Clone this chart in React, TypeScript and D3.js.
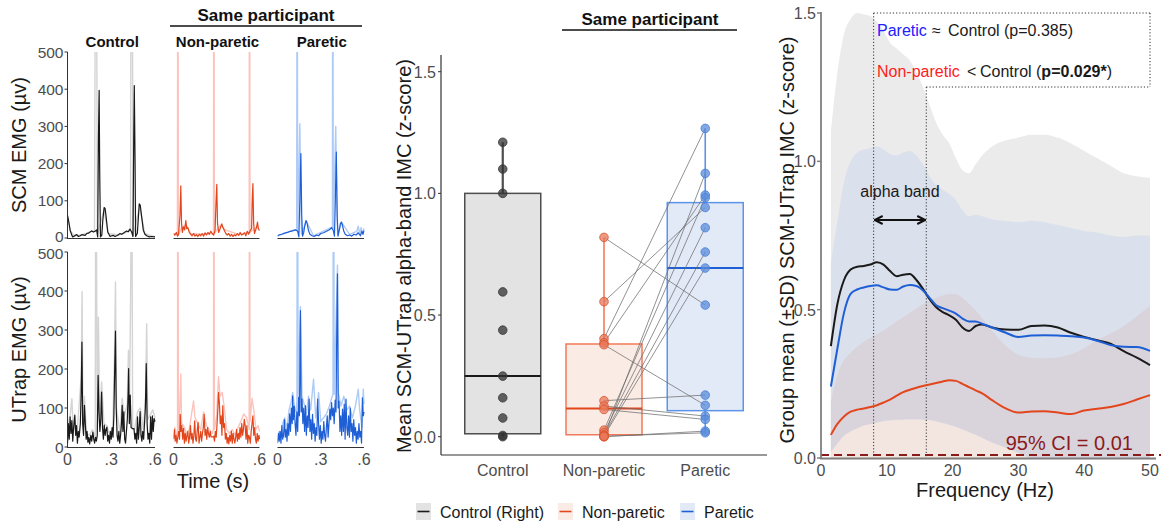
import React from "react";
import * as d3 from "d3";

type Pt = [number, number];

// ================= Panel A: EMG traces (time in s, amplitude in µV) =================
const emgRowLabels = ["SCM EMG (µv)", "UTrap EMG (µv)"];
const emgColTitles = ["Control", "Non-paretic", "Paretic"];
const emgYTicks = [0, 100, 200, 300, 400, 500];
const emgXTicks = [0, 0.3, 0.6];
const emgXTickLabels = ["0", ".3", ".6"];

const scmControlMain: Pt[] = [[0,61],[0.009,43],[0.018,21],[0.03,7],[0.036,3],[0.052,7],[0.064,9],[0.075,4],[0.087,6],[0.098,9],[0.121,7],[0.132,12],[0.144,13],[0.155,16],[0.166,19],[0.178,16],[0.189,18],[0.2,22],[0.207,3],[0.212,262],[0.217,397],[0.221,173],[0.226,3],[0.235,7],[0.242,47],[0.251,82],[0.258,79],[0.265,56],[0.276,16],[0.292,4],[0.303,6],[0.315,7],[0.326,4],[0.337,6],[0.349,9],[0.36,12],[0.372,10],[0.383,13],[0.394,16],[0.406,19],[0.417,17],[0.428,24],[0.44,16],[0.449,4],[0.454,262],[0.458,410],[0.463,218],[0.467,4],[0.479,13],[0.486,56],[0.492,92],[0.499,88],[0.506,65],[0.52,21],[0.531,10],[0.543,6],[0.561,3],[0.577,4],[0.6,3]];
const scmControlRaw: Pt[] = [[0,58],[0.02,18],[0.05,5],[0.1,9],[0.15,16],[0.185,20],[0.19,620],[0.2,620],[0.205,10],[0.25,75],[0.28,12],[0.35,8],[0.42,18],[0.432,22],[0.435,620],[0.445,620],[0.45,6],[0.495,85],[0.53,12],[0.6,3]];

const scmNonMain: Pt[] = [[0,12],[0.01,8],[0.02,15],[0.028,5],[0.035,10],[0.045,60],[0.051,140],[0.056,40],[0.062,15],[0.07,30],[0.078,22],[0.086,47],[0.092,25],[0.1,28],[0.11,15],[0.12,10],[0.13,6],[0.14,12],[0.15,5],[0.16,9],[0.17,4],[0.18,10],[0.19,6],[0.2,12],[0.21,5],[0.22,14],[0.23,8],[0.24,15],[0.25,10],[0.26,18],[0.27,12],[0.28,8],[0.29,20],[0.297,100],[0.302,144],[0.307,40],[0.315,15],[0.325,25],[0.337,38],[0.345,28],[0.355,20],[0.365,12],[0.375,8],[0.385,12],[0.395,5],[0.405,10],[0.415,4],[0.425,9],[0.435,6],[0.445,12],[0.455,7],[0.465,15],[0.475,8],[0.485,10],[0.495,14],[0.505,6],[0.515,18],[0.525,10],[0.535,20],[0.545,25],[0.549,100],[0.554,146],[0.559,40],[0.565,12],[0.572,20],[0.58,30],[0.586,43],[0.592,25],[0.6,20]];
const scmNonRaw: Pt[] = [[0,10],[0.027,8],[0.029,620],[0.032,620],[0.034,8],[0.06,30],[0.09,35],[0.12,12],[0.2,10],[0.279,12],[0.28,620],[0.283,620],[0.285,12],[0.33,35],[0.36,22],[0.45,10],[0.528,15],[0.529,620],[0.532,620],[0.534,15],[0.58,30],[0.6,22]];

const scmParMain: Pt[] = [[0,5],[0.01,8],[0.03,10],[0.05,13],[0.07,15],[0.09,18],[0.11,20],[0.125,22],[0.14,18],[0.148,3],[0.155,100],[0.162,227],[0.168,60],[0.174,5],[0.182,15],[0.19,35],[0.198,47],[0.205,40],[0.215,20],[0.225,10],[0.24,6],[0.255,4],[0.27,8],[0.285,6],[0.3,12],[0.32,14],[0.34,18],[0.36,22],[0.375,28],[0.387,20],[0.395,5],[0.401,100],[0.408,231],[0.414,60],[0.42,5],[0.428,20],[0.436,38],[0.443,43],[0.45,35],[0.46,18],[0.47,10],[0.485,6],[0.5,8],[0.515,5],[0.53,10],[0.545,8],[0.56,14],[0.575,6],[0.585,18],[0.593,10],[0.6,20]];
const scmParRaw: Pt[] = [[0,6],[0.05,13],[0.1,20],[0.133,22],[0.135,620],[0.138,620],[0.14,20],[0.15,200],[0.155,307],[0.16,120],[0.167,10],[0.2,45],[0.25,6],[0.37,28],[0.381,30],[0.382,620],[0.385,620],[0.387,25],[0.398,200],[0.404,300],[0.41,120],[0.417,10],[0.445,42],[0.5,10],[0.55,18],[0.56,32],[0.57,12],[0.58,28],[0.59,12],[0.6,26]];

const utControlMain: Pt[] = [[0,10],[0.006,60],[0.012,20],[0.018,77],[0.024,35],[0.03,68],[0.036,15],[0.042,50],[0.05,81],[0.056,30],[0.062,55],[0.068,10],[0.074,40],[0.08,25],[0.088,60],[0.094,141],[0.099,269],[0.104,60],[0.11,30],[0.116,107],[0.122,60],[0.128,20],[0.134,40],[0.14,12],[0.146,25],[0.152,8],[0.16,30],[0.166,15],[0.174,38],[0.18,20],[0.186,10],[0.192,25],[0.198,15],[0.204,30],[0.21,184],[0.216,90],[0.222,40],[0.228,70],[0.234,141],[0.24,50],[0.246,20],[0.252,56],[0.258,30],[0.264,45],[0.27,51],[0.276,15],[0.282,30],[0.288,10],[0.294,40],[0.3,20],[0.306,50],[0.312,25],[0.318,80],[0.323,188],[0.329,297],[0.334,100],[0.34,30],[0.346,15],[0.352,40],[0.358,10],[0.364,30],[0.37,60],[0.375,107],[0.38,40],[0.386,90],[0.392,20],[0.398,10],[0.404,40],[0.41,70],[0.416,140],[0.419,201],[0.424,60],[0.43,133],[0.436,50],[0.442,48],[0.45,47],[0.456,47],[0.462,20],[0.468,35],[0.474,10],[0.48,77],[0.486,20],[0.492,50],[0.498,91],[0.504,30],[0.51,15],[0.516,40],[0.522,20],[0.528,60],[0.534,100],[0.54,214],[0.546,60],[0.552,20],[0.558,35],[0.564,10],[0.57,77],[0.576,20],[0.582,80],[0.588,40],[0.594,73],[0.6,65]];
const utControlRaw: Pt[] = [[0,15],[0.01,70],[0.018,80],[0.03,124],[0.04,40],[0.05,85],[0.06,30],[0.07,60],[0.094,180],[0.1,398],[0.106,60],[0.116,130],[0.13,35],[0.15,30],[0.17,45],[0.19,25],[0.193,620],[0.198,620],[0.204,40],[0.212,333],[0.22,80],[0.234,167],[0.25,60],[0.27,55],[0.29,30],[0.31,45],[0.322,230],[0.329,423],[0.336,100],[0.36,35],[0.375,125],[0.39,80],[0.41,110],[0.418,248],[0.425,100],[0.432,355],[0.437,620],[0.442,620],[0.447,45],[0.46,45],[0.48,90],[0.5,100],[0.52,45],[0.535,130],[0.543,316],[0.55,70],[0.57,85],[0.585,95],[0.6,75]];

const utNonMain: Pt[] = [[0,20],[0.006,45],[0.012,15],[0.018,30],[0.024,10],[0.03,25],[0.036,40],[0.042,20],[0.047,84],[0.052,40],[0.058,55],[0.064,20],[0.07,48],[0.076,10],[0.082,35],[0.088,15],[0.094,30],[0.1,40],[0.106,10],[0.112,25],[0.118,55],[0.124,20],[0.13,35],[0.136,10],[0.142,30],[0.148,67],[0.154,20],[0.16,15],[0.166,45],[0.172,63],[0.178,10],[0.184,25],[0.19,40],[0.196,15],[0.202,35],[0.208,50],[0.214,84],[0.22,30],[0.226,45],[0.232,20],[0.238,50],[0.244,35],[0.25,25],[0.256,40],[0.262,26],[0.268,26],[0.274,26],[0.28,28],[0.286,15],[0.292,40],[0.298,25],[0.304,60],[0.31,100],[0.314,140],[0.32,114],[0.326,60],[0.332,80],[0.338,30],[0.344,106],[0.35,50],[0.356,60],[0.362,20],[0.368,35],[0.374,10],[0.38,25],[0.386,8],[0.392,30],[0.398,15],[0.404,40],[0.41,10],[0.416,35],[0.422,20],[0.428,10],[0.434,25],[0.44,45],[0.446,15],[0.452,35],[0.458,20],[0.464,50],[0.47,25],[0.476,60],[0.482,30],[0.488,45],[0.494,71],[0.5,55],[0.506,20],[0.512,55],[0.518,10],[0.524,30],[0.53,25],[0.536,10],[0.542,40],[0.548,60],[0.554,80],[0.56,30],[0.566,50],[0.572,20],[0.578,10],[0.584,35],[0.59,15],[0.596,30],[0.6,20]];
const utNonRaw: Pt[] = [[0,25],[0.01,50],[0.02,30],[0.028,35],[0.029,620],[0.032,620],[0.034,45],[0.045,110],[0.051,187],[0.056,60],[0.07,55],[0.09,35],[0.11,45],[0.12,70],[0.14,118],[0.15,75],[0.17,60],[0.19,45],[0.21,90],[0.23,55],[0.25,45],[0.27,35],[0.279,45],[0.28,620],[0.283,620],[0.285,45],[0.3,75],[0.314,180],[0.325,130],[0.34,140],[0.355,100],[0.37,45],[0.39,35],[0.41,45],[0.43,30],[0.45,50],[0.47,65],[0.49,85],[0.51,75],[0.528,45],[0.529,620],[0.532,620],[0.534,65],[0.548,125],[0.56,95],[0.575,45],[0.59,55],[0.6,40]];

const utParMain: Pt[] = [[0,10],[0.006,35],[0.012,15],[0.018,40],[0.024,10],[0.03,55],[0.036,20],[0.042,30],[0.048,70],[0.054,25],[0.06,45],[0.066,15],[0.072,60],[0.078,30],[0.084,85],[0.09,40],[0.096,100],[0.102,60],[0.105,131],[0.11,70],[0.116,105],[0.122,60],[0.128,30],[0.134,90],[0.14,40],[0.146,127],[0.152,80],[0.159,350],[0.164,90],[0.17,123],[0.176,60],[0.182,100],[0.188,40],[0.194,106],[0.2,30],[0.206,80],[0.212,50],[0.219,123],[0.225,40],[0.231,70],[0.237,20],[0.243,84],[0.249,35],[0.255,60],[0.261,15],[0.267,50],[0.273,30],[0.279,123],[0.285,60],[0.291,20],[0.297,55],[0.303,10],[0.309,40],[0.315,20],[0.321,65],[0.327,30],[0.333,15],[0.339,50],[0.345,80],[0.351,25],[0.357,60],[0.363,97],[0.369,70],[0.375,114],[0.381,80],[0.387,100],[0.393,60],[0.4,120],[0.406,90],[0.411,300],[0.416,444],[0.421,100],[0.427,118],[0.433,40],[0.439,80],[0.445,30],[0.451,97],[0.457,40],[0.463,110],[0.469,20],[0.475,123],[0.481,50],[0.487,30],[0.493,80],[0.499,25],[0.505,100],[0.511,40],[0.517,60],[0.523,15],[0.529,70],[0.535,30],[0.541,50],[0.547,10],[0.553,40],[0.559,20],[0.565,60],[0.571,25],[0.577,40],[0.583,10],[0.589,126],[0.595,80],[0.6,90]];
const utParRaw: Pt[] = [[0,15],[0.012,40],[0.024,30],[0.036,60],[0.05,75],[0.065,45],[0.08,95],[0.095,115],[0.105,140],[0.12,100],[0.13,90],[0.135,120],[0.136,620],[0.141,620],[0.143,130],[0.159,360],[0.17,130],[0.185,110],[0.2,85],[0.215,130],[0.23,95],[0.25,174],[0.265,75],[0.285,140],[0.3,65],[0.32,75],[0.34,85],[0.36,105],[0.375,125],[0.385,135],[0.386,620],[0.391,620],[0.393,135],[0.41,380],[0.416,466],[0.422,140],[0.44,105],[0.46,130],[0.48,95],[0.5,105],[0.52,75],[0.54,105],[0.56,148],[0.57,95],[0.585,50],[0.595,148],[0.6,110]];

// ================= Panel B: box plot of alpha-band IMC =================
const boxGroups = ["Control", "Non-paretic", "Paretic"];
const legendLabels = ["Control (Right)", "Non-paretic", "Paretic"];
const controlIMC = [1.21, 1.1, 1.0, 0.595, 0.438, 0.249, 0.16, 0.077, 0.005, 0.0];
const nonPareticIMC = [0.819, 0.555, 0.403, 0.386, 0.378, 0.148, 0.126, 0.112, 0.027, 0.016, 0.007, 0.003, 0.0, 0.0, 0.002];
const pareticIMC = [0.541, 0.942, 1.267, 0.993, 0.129, 0.171, 0.085, 0.071, 0.982, 0.859, 0.759, 0.693, 1.082, 0.023, 0.016];
// [lower whisker, q1, median, q3, upper whisker]
const boxStats = [
  [0.0, 0.012, 0.249, 1.0, 1.21],
  [0.0, 0.008, 0.116, 0.381, 0.819],
  [0.016, 0.107, 0.693, 0.962, 1.267],
];
const imcTicks = [0, 0.5, 1.0, 1.5];

// ================= Panel C: IMC spectra =================
const freqHz = [1.5,2.5,3.5,4.5,5.5,6.5,7.5,8.5,9.5,10.5,11.5,12.5,13.5,14.5,15.5,16.5,17.5,18.5,19.5,20.5,21.5,22.5,23.5,24.5,26,28,30,32,34,36,38,40,42,44,46,48,50];
const controlMean = [0.377,0.52,0.6,0.635,0.645,0.647,0.652,0.66,0.652,0.63,0.613,0.618,0.62,0.6,0.57,0.535,0.508,0.492,0.481,0.466,0.44,0.428,0.445,0.45,0.44,0.433,0.432,0.445,0.447,0.44,0.422,0.408,0.397,0.385,0.36,0.338,0.313];
const pareticMean = [0.241,0.37,0.49,0.553,0.568,0.575,0.58,0.582,0.575,0.568,0.567,0.578,0.583,0.58,0.565,0.54,0.515,0.505,0.497,0.487,0.47,0.46,0.46,0.452,0.44,0.423,0.408,0.413,0.414,0.413,0.41,0.406,0.395,0.381,0.375,0.374,0.361];
const nonPareticMean = [0.078,0.115,0.14,0.156,0.163,0.167,0.172,0.178,0.187,0.197,0.21,0.222,0.23,0.237,0.243,0.248,0.253,0.258,0.262,0.26,0.25,0.239,0.228,0.218,0.195,0.168,0.153,0.157,0.158,0.153,0.148,0.16,0.166,0.172,0.182,0.197,0.212];
const controlUpper = [1.1,1.3,1.43,1.48,1.5,1.495,1.49,1.47,1.44,1.4,1.38,1.36,1.34,1.3,1.25,1.19,1.13,1.09,1.06,1.01,0.97,0.96,0.99,1.02,1.05,1.07,1.08,1.09,1.09,1.08,1.06,1.035,1.01,0.985,0.96,0.95,0.945];
const pareticUpper = [0.66,0.8,0.93,1.0,1.03,1.04,1.045,1.05,1.04,1.025,1.02,1.03,1.035,1.02,0.99,0.95,0.92,0.905,0.89,0.87,0.835,0.815,0.82,0.815,0.805,0.8,0.795,0.8,0.795,0.785,0.775,0.765,0.76,0.75,0.745,0.75,0.75];
const pareticLower = [0.02,0.05,0.075,0.09,0.1,0.11,0.115,0.12,0.125,0.127,0.129,0.13,0.131,0.131,0.13,0.128,0.124,0.118,0.112,0.105,0.097,0.088,0.078,0.068,0.052,0.035,0.018,0,0,0,0,0,0,0,0,0,0];
const nonPareticUpper = [0.19,0.28,0.33,0.355,0.375,0.392,0.405,0.418,0.43,0.445,0.46,0.475,0.49,0.505,0.518,0.53,0.54,0.548,0.553,0.552,0.54,0.52,0.498,0.472,0.43,0.38,0.348,0.338,0.336,0.34,0.35,0.37,0.398,0.42,0.445,0.478,0.512];
const freqTicks = [0, 10, 20, 30, 40, 50];
const alphaBand = [8, 16];
const ciThreshold = 0.01;

// ================= styling =================
const FONT = "'Liberation Sans', Arial, Helvetica, sans-serif";
const darkCol = ["#1a1a1a", "#e2461c", "#1f5fd6"];
const lightCol = ["#d4d4d4", "#fcc3bc", "#aecbf6"];
const boxFill = ["#e3e3e3", "#fbebe5", "#e3eaf7"];
const boxStroke = ["#4d4d4d", "#f27a5a", "#5c94ea"];
const pointFill = ["rgba(50,50,50,0.75)", "rgba(232,120,90,0.75)", "rgba(90,140,220,0.75)"];
const pointStroke = ["#3a3a3a", "#d9532e", "#4a7fd6"];
const tickCol = "#4d4d4d";

function PanelA() {
  const colX: [number, number][] = [[67.5, 155], [173.5, 259.5], [277.5, 364]];
  const rowY: [number, number][] = [[238, 52], [447, 252]];
  const traces: Pt[][][][] = [
    [[scmControlRaw, scmControlMain], [scmNonRaw, scmNonMain], [scmParRaw, scmParMain]],
    [[utControlRaw, utControlMain], [utNonRaw, utNonMain], [utParRaw, utParMain]],
  ];
  return (
    <g>
      <text x={266} y={21} textAnchor="middle" fontWeight="bold" fontSize={17} fill="#111">Same participant</text>
      <line x1={170} x2={362} y1={26} y2={26} stroke="#111" strokeWidth={1.6} />
      {emgColTitles.map((t, i) => (
        <text key={t} x={(colX[i][0] + colX[i][1]) / 2 + 1} y={47} textAnchor="middle" fontWeight="bold" fontSize={15} fill="#111">{t}</text>
      ))}
      {rowY.map((ry, r) => {
        const y = d3.scaleLinear().domain([0, 500]).range(ry);
        return (
          <g key={r}>
            {colX.map((cx, c) => {
              const x = d3.scaleLinear().domain([0, 0.6]).range(cx);
              const line = d3.line<Pt>().x(d => x(d[0])).y(d => y(d[1]));
              const id = `clipA${r}${c}`;
              const [raw, main] = traces[r][c];
              return (
                <g key={c}>
                  <clipPath id={id}>
                    <rect x={cx[0]} y={y(500)} width={cx[1] - cx[0] + 1} height={y(0) - y(500) + 1} />
                  </clipPath>
                  <g clipPath={`url(#${id})`}>
                    <path d={line(raw) || ""} fill="none" stroke={lightCol[c]} strokeWidth={1.4} strokeLinejoin="round" />
                    <path d={line(main) || ""} fill="none" stroke={darkCol[c]} strokeWidth={1.2} strokeLinejoin="round" />
                  </g>
                  <line x1={cx[0]} x2={cx[1]} y1={y(0) + 0.5} y2={y(0) + 0.5} stroke="#333" strokeWidth={1} />
                  {r === 1 && emgXTicks.map((t, k) => (
                    <text key={k} x={x(t)} y={y(0) + 18} textAnchor="middle" fontSize={16} fill={tickCol}>{emgXTickLabels[k]}</text>
                  ))}
                </g>
              );
            })}
            <line x1={colX[0][0]} x2={colX[0][0]} y1={y(500)} y2={y(0) + 1} stroke="#333" strokeWidth={1} />
            {emgYTicks.map(v => (
              <g key={v}>
                <line x1={colX[0][0] - 3} x2={colX[0][0]} y1={y(v)} y2={y(v)} stroke="#333" />
                <text x={colX[0][0] - 4} y={y(v) + (v === 0 && r === 0 ? 4 : v === 500 && r === 1 ? 7 : 5.5)} textAnchor="end" fontSize={15.5} fill={tickCol}>{v}</text>
              </g>
            ))}
            <text transform={`translate(26,${(ry[0] + ry[1]) / 2}) rotate(-90)`} textAnchor="middle" fontSize={20} fill="#1a1a1a">{emgRowLabels[r]}</text>
          </g>
        );
      })}
      <text x={213} y={488} textAnchor="middle" fontSize={20} fill="#1a1a1a">Time (s)</text>
    </g>
  );
}

function PanelB() {
  const x = d3.scalePoint<string>().domain(boxGroups).range([441, 767]).padding(0.61);
  const y = d3.scaleLinear().domain([0, 1.5]).range([436.7, 71.7]);
  const groups = [controlIMC, nonPareticIMC, pareticIMC];
  const hw = 38;
  const legX = [416, 558, 680];
  return (
    <g>
      <text x={650} y={25} textAnchor="middle" fontWeight="bold" fontSize={17} fill="#111">Same participant</text>
      <line x1={562} x2={737} y1={30} y2={30} stroke="#111" strokeWidth={1.6} />
      {boxGroups.map((g, i) => {
        const [lo, q1, md, q3, hi] = boxStats[i];
        const cx = x(g)!;
        return (
          <g key={g}>
            <line x1={cx} x2={cx} y1={y(q3)} y2={y(hi)} stroke={i === 0 ? "#4d4d4d" : boxStroke[i]} strokeWidth={i === 0 ? 2.2 : 1.6} />
            <line x1={cx} x2={cx} y1={y(q1)} y2={y(lo)} stroke={i === 0 ? "#4d4d4d" : boxStroke[i]} strokeWidth={i === 0 ? 2.2 : 1.6} />
            <rect x={cx - hw} y={y(q3)} width={hw * 2} height={y(q1) - y(q3)} fill={boxFill[i]} stroke={boxStroke[i]} strokeWidth={1.5} />
            <line x1={cx - hw} x2={cx + hw} y1={y(md)} y2={y(md)} stroke={darkCol[i]} strokeWidth={2} />
          </g>
        );
      })}
      {nonPareticIMC.map((v, i) => (
        <line key={i} x1={x("Non-paretic")!} x2={x("Paretic")!} y1={y(v)} y2={y(pareticIMC[i])} stroke="rgba(110,110,110,0.75)" strokeWidth={1} />
      ))}
      {groups.map((vals, gi) => vals.map((v, k) => (
        <circle key={`${gi}-${k}`} cx={x(boxGroups[gi])!} cy={y(v)} r={4.3} fill={pointFill[gi]} stroke={pointStroke[gi]} strokeWidth={0.8} />
      )))}
      <line x1={441} x2={441} y1={55} y2={455} stroke="#333" strokeWidth={1.2} />
      <line x1={441} x2={767} y1={455} y2={455} stroke="#333" strokeWidth={1.2} />
      {imcTicks.map(t => (
        <g key={t}>
          <line x1={438} x2={441} y1={y(t)} y2={y(t)} stroke="#333" />
          <text x={436} y={y(t) + 6} textAnchor="end" fontSize={16} fill={tickCol}>{t.toFixed(1)}</text>
        </g>
      ))}
      {boxGroups.map(g => (
        <text key={g} x={x(g)!} y={476} textAnchor="middle" fontSize={16} fill={tickCol}>{g}</text>
      ))}
      <text transform="translate(411,256) rotate(-90)" textAnchor="middle" fontSize={20} fill="#1a1a1a">Mean SCM-UTrap alpha-band IMC (z-score)</text>
      {legendLabels.map((l, i) => (
        <g key={l}>
          <rect x={legX[i]} y={503} width={15} height={17} fill={boxFill[i]} />
          <line x1={legX[i] + 1.5} x2={legX[i] + 13.5} y1={511.5} y2={511.5} stroke={darkCol[i]} strokeWidth={1.6} />
          <text x={legX[i] + 24} y={517.5} fontSize={16} fill="#1a1a1a">{l}</text>
        </g>
      ))}
    </g>
  );
}

function PanelC() {
  const x = d3.scaleLinear().domain([0, 50]).range([821, 1150]);
  const y = d3.scaleLinear().domain([0, 1.5]).range([458, 13]);
  const idx = freqHz.map((_, i) => i);
  const band = (lo: (i: number) => number, hi: number[]) =>
    d3.area<number>().x(i => x(freqHz[i])).y0(i => y(lo(i))).y1(i => y(hi[i])).curve(d3.curveMonotoneX)(idx) || "";
  const mline = (m: number[]) =>
    d3.line<number>().x(i => x(freqHz[i])).y(i => y(m[i])).curve(d3.curveMonotoneX)(idx) || "";
  const grayArea = band(() => 0, controlUpper);
  const blueArea = band(i => pareticLower[i], pareticUpper);
  const redArea = band(() => 0, nonPareticUpper);
  const xa = x(alphaBand[0]), xb = x(alphaBand[1]);
  return (
    <g>
      <defs>
        <clipPath id="clipBlue"><path d={blueArea} /></clipPath>
        <marker id="arrowHead" viewBox="0 0 10 10" refX={9} refY={5} markerWidth={5} markerHeight={5} orient="auto-start-reverse">
          <path d="M1,1 L9,5 L1,9" fill="none" stroke="#111" strokeWidth={2} />
        </marker>
      </defs>
      <path d={grayArea} fill="#ebebeb" />
      <path d={redArea} fill="#f3e6e1" />
      <path d={blueArea} fill="#dbe1ec" />
      <path d={redArea} fill="#d9d3dc" clipPath="url(#clipBlue)" />
      <line x1={xa} x2={xa} y1={13} y2={y(0)} stroke="#333" strokeWidth={1} strokeDasharray="1.2,2" />
      <line x1={xb} x2={xb} y1={87} y2={y(0)} stroke="#333" strokeWidth={1} strokeDasharray="1.2,2" />
      <line x1={xa} x2={x(50)} y1={13} y2={13} stroke="#333" strokeWidth={1} strokeDasharray="1.2,2" />
      <line x1={x(50)} x2={x(50)} y1={13} y2={87} stroke="#333" strokeWidth={1} strokeDasharray="1.2,2" />
      <line x1={xb} x2={x(50)} y1={87} y2={87} stroke="#333" strokeWidth={1} strokeDasharray="1.2,2" />
      <path d={mline(nonPareticMean)} fill="none" stroke={darkCol[1]} strokeWidth={2} />
      <path d={mline(controlMean)} fill="none" stroke={darkCol[0]} strokeWidth={2} />
      <path d={mline(pareticMean)} fill="none" stroke={darkCol[2]} strokeWidth={2} />
      <text x={(xa + xb) / 2} y={197} textAnchor="middle" fontSize={16} fill="#1a1a1a">alpha band</text>
      <line x1={xa + 1} x2={xb - 1} y1={220} y2={220} stroke="#111" strokeWidth={2} markerStart="url(#arrowHead)" markerEnd="url(#arrowHead)" />
      <text x={877} y={36} fontSize={16} fill="#2020ff">Paretic</text>
      <text x={932} y={36} fontSize={16} fill="#1a1a1a">≈</text>
      <text x={948} y={36} fontSize={16} fill="#1a1a1a">Control (p=0.385)</text>
      <text x={877} y={77} fontSize={16} fill="#ff2020">Non-paretic</text>
      <text x={967} y={77} fontSize={16} fill="#1a1a1a">&lt;</text>
      <text x={980} y={77} fontSize={16} fill="#1a1a1a">Control (<tspan fontWeight="bold">p=0.029*</tspan>)</text>
      <line x1={821} x2={1161} y1={y(ciThreshold)} y2={y(ciThreshold)} stroke="#8b1a1a" strokeWidth={2} strokeDasharray="8,5" />
      <text x={1133} y={450} textAnchor="end" fontSize={20} fill="#8b1a1a">95% CI = 0.01</text>
      <line x1={821} x2={821} y1={12} y2={459} stroke="#7f7f7f" strokeWidth={1.8} />
      <line x1={820} x2={1156} y1={458.5} y2={458.5} stroke="#7f7f7f" strokeWidth={1.8} />
      {imcTicks.map(t => (
        <g key={t}>
          <line x1={817} x2={821} y1={y(t)} y2={y(t)} stroke="#7f7f7f" strokeWidth={1.5} />
          <text x={816} y={y(t) + 6} textAnchor="end" fontSize={16} fill={tickCol}>{t.toFixed(1)}</text>
        </g>
      ))}
      {freqTicks.map(t => (
        <text key={t} x={x(t)} y={476} textAnchor="middle" fontSize={16} fill={tickCol}>{t}</text>
      ))}
      <text x={985} y={497} textAnchor="middle" fontSize={20} fill="#1a1a1a">Frequency (Hz)</text>
      <text transform="translate(794,240) rotate(-90)" textAnchor="middle" fontSize={20} fill="#1a1a1a">Group mean (±SD) SCM-UTrap IMC (z-score)</text>
    </g>
  );
}

export default function App() {
  return (
    <svg width={1161} height={522} style={{ position: "absolute", left: 0, top: 0, display: "block" }} fontFamily={FONT}>
      <rect width={1161} height={522} fill="white" />
      <PanelA />
      <PanelB />
      <PanelC />
    </svg>
  );
}
